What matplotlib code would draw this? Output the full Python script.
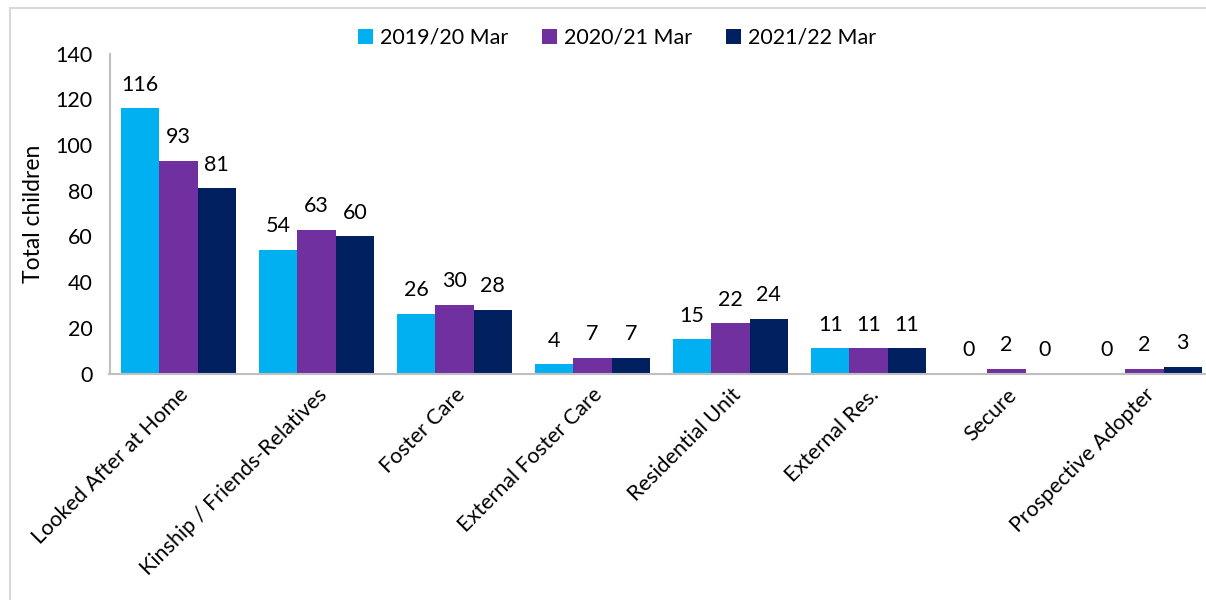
"""
Children by placement type, March snapshots 2019/20 - 2021/22
"""

import numpy as np
import matplotlib
matplotlib.use('Agg')
import matplotlib.pyplot as plt
from matplotlib.patches import Rectangle

plt.rcParams['font.family'] = ['Lato', 'DejaVu Sans']

categories = ['Looked After at Home', 'Kinship / Friends-Relatives', 'Foster Care',
              'External Foster Care', 'Residential Unit', 'External Res.', 'Secure',
              'Prospective Adopter']
series_names = ['2019/20 Mar', '2020/21 Mar', '2021/22 Mar']
values_2019 = [116, 54, 26, 4, 15, 11, 0, 0]
values_2020 = [93, 63, 30, 7, 22, 11, 2, 2]
values_2021 = [81, 60, 28, 7, 24, 11, 0, 3]
colors = ['#00B0F0', '#7030A0', '#002060']

FS = 15.5

fig = plt.figure(figsize=(12.06, 6.0), dpi=100)

# light grey chart-area border (top and left visible)
fig.patches.append(Rectangle((10 / 1206, -0.1), 1.2, (600 - 8) / 600 + 0.1,
                             transform=fig.transFigure, fill=False,
                             edgecolor='#D9D9D9', linewidth=1.5))

ax = fig.add_axes([109.5 / 1206, 1 - 373.5 / 600, 1104 / 1206, 320 / 600])

x = np.arange(len(categories))
width = 0.2777
all_values = [values_2019, values_2020, values_2021]
for i, (vals, name, col) in enumerate(zip(all_values, series_names, colors)):
    bars = ax.bar(x + (i - 1) * width, vals, width, color=col, label=name)
    for b, v in zip(bars, vals):
        ax.text(b.get_x() + b.get_width() / 2, v + 6, str(v),
                ha='center', va='bottom', fontsize=FS)

ax.set_xlim(-0.5, len(categories) - 0.5)
ax.set_ylim(0, 140)
ax.set_yticks(range(0, 141, 20))
ax.tick_params(axis='y', length=0, labelsize=FS, pad=12)
ax.tick_params(axis='x', length=0, pad=8)
ax.set_xticks(x)
ax.set_xticklabels(categories, rotation=45, ha='right', va='top',
                   rotation_mode='anchor', fontsize=FS)
ax.set_ylabel('Total children', fontsize=16.5, labelpad=8)

for side in ['top', 'right']:
    ax.spines[side].set_visible(False)
for side in ['left', 'bottom']:
    ax.spines[side].set_color('#BFBFBF')
    ax.spines[side].set_linewidth(1.5)

ax.legend(loc='center', bbox_to_anchor=(617 / 1206, 1 - 38 / 600),
          bbox_transform=fig.transFigure, ncol=3, frameon=False,
          fontsize=FS, handlelength=0.7, handleheight=0.7,
          handletextpad=0.3, columnspacing=1.6)

plt.savefig('out.png', dpi=100)
plt.close()
